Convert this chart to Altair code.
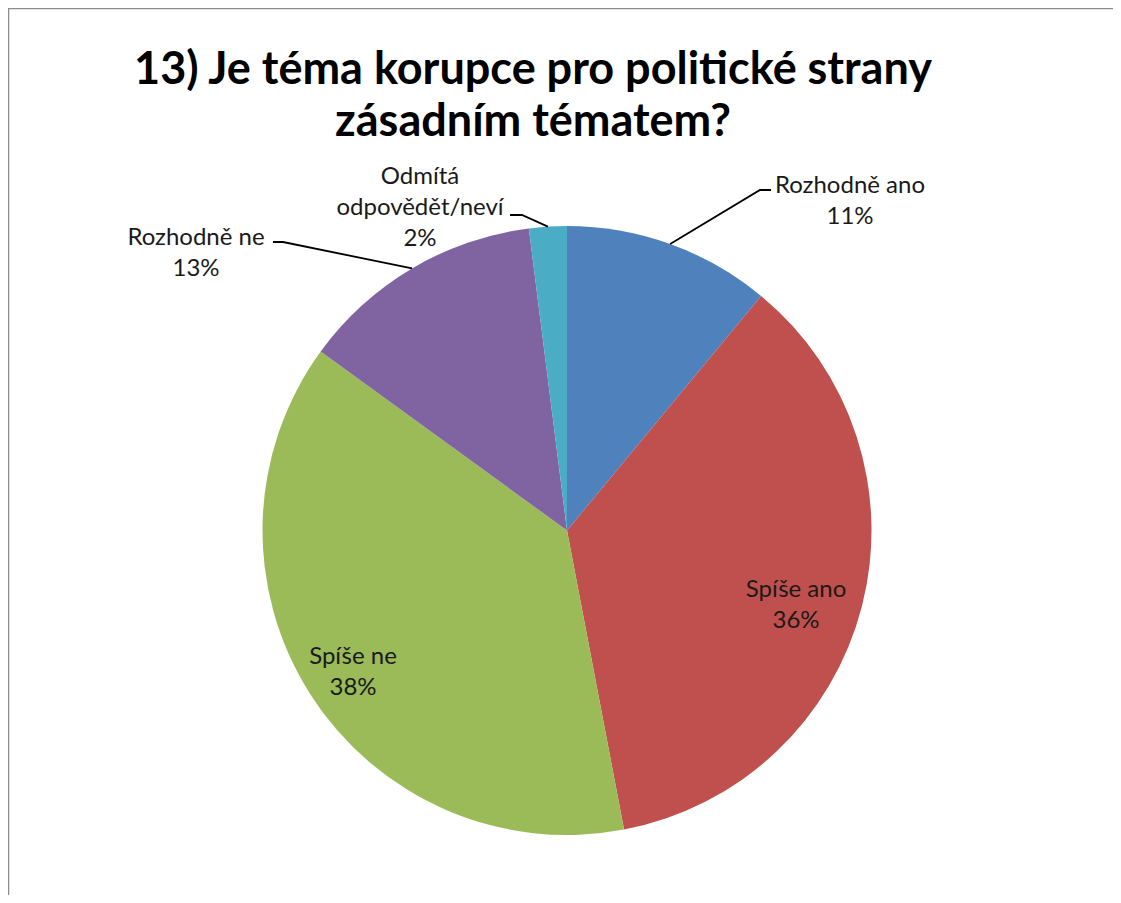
import altair as alt
import pandas as pd
import numpy as np

# ---- data ----
categories = ["Rozhodně ano", "Spíše ano", "Spíše ne", "Rozhodně ne", "Odmítá odpovědět/neví"]
label_lines = [["Rozhodně ano"], ["Spíše ano"], ["Spíše ne"], ["Rozhodně ne"], ["Odmítá", "odpovědět/neví"]]
values = [11, 36, 38, 13, 2]
colors = ["#4F81BD", "#C0504D", "#9BBB59", "#8064A2", "#4BACC6"]
title_lines = ["13) Je téma korupce pro politické strany", "zásadním tématem?"]

# ---- layout (page pixel coordinates, minus page margin) ----
M = 8
W, H = 1105, 887
CX, CY, R = 567 - M, 530.5 - M, 304.5
label_pos = {  # centre x, first-line middle y of each label
    "Rozhodně ano": (850, 186),
    "Spíše ano": (796, 590),
    "Spíše ne": (353, 657),
    "Rozhodně ne": (196, 238),
    "Odmítá odpovědět/neví": (420, 177),
}
leaders = {  # elbow, end of the leader line
    "Rozhodně ano": [(760, 190), (771, 190)],
    "Rozhodně ne": [(283, 242), (273, 242)],
    "Odmítá odpovědět/neví": [(522, 215), (510, 215)],
}
LABEL_FONT = "Lato"

total = sum(values)
pie = pd.DataFrame({"cat": categories, "value": values, "idx": range(len(values))})

cum = np.cumsum(values) / total
mid = (cum - np.array(values) / total / 2) * 2 * np.pi

lab_rows = []
for c, lines, v in zip(categories, label_lines, values):
    x, y = label_pos[c]
    lab_rows.append({"cat": c, "text": "\n".join(lines + [f"{v}%"]), "x": x - M, "y": y - M})
labels = pd.DataFrame(lab_rows)

lead_rows = []
for i, c in enumerate(categories):
    if c in leaders:
        ex = CX + R * np.sin(mid[i])
        ey = CY - R * np.cos(mid[i])
        pts = [(ex, ey)] + [(px - M, py - M) for px, py in leaders[c]]
        for k, (px, py) in enumerate(pts):
            lead_rows.append({"cat": c, "k": k, "x": px, "y": py})
leads = pd.DataFrame(lead_rows)

title_df = pd.DataFrame({"text": ["\n".join(title_lines)], "x": [533 - M], "y": [70 - M]})

xs = alt.Scale(domain=[0, W], nice=False, zero=False)
ys = alt.Scale(domain=[0, H], nice=False, zero=False, reverse=True)

arcs = alt.Chart(pie).mark_arc(outerRadius=R, strokeWidth=0).encode(
    theta=alt.Theta("value:Q", stack=True),
    color=alt.Color("cat:N", scale=alt.Scale(domain=categories, range=colors), legend=None),
    order=alt.Order("idx:Q"),
    x=alt.value(CX),
    y=alt.value(CY),
)

lines = alt.Chart(leads).mark_line(color="black", strokeWidth=1.8).encode(
    x=alt.X("x:Q", scale=xs, axis=None),
    y=alt.Y("y:Q", scale=ys, axis=None),
    detail="cat:N",
    order="k:Q",
)

texts = alt.Chart(labels).mark_text(
    font=LABEL_FONT, fontSize=24, color="#1a1a1a", lineBreak="\n", lineHeight=31,
    align="center", baseline="middle",
).encode(
    x=alt.X("x:Q", scale=xs, axis=None),
    y=alt.Y("y:Q", scale=ys, axis=None),
    text="text:N",
)

title = alt.Chart(title_df).mark_text(
    font="Lato", fontSize=45, fontWeight="bold", color="black", lineBreak="\n", lineHeight=52,
    align="center", baseline="middle",
).encode(
    x=alt.X("x:Q", scale=xs, axis=None),
    y=alt.Y("y:Q", scale=ys, axis=None),
    text="text:N",
)

border_top = alt.Chart(pd.DataFrame({"a": [0]})).mark_rule(color="#8c8c8c", strokeWidth=2.5).encode(
    x=alt.value(0), x2=alt.value(W), y=alt.value(0)
)
border_left = alt.Chart(pd.DataFrame({"a": [0]})).mark_rule(color="#8c8c8c", strokeWidth=2.5).encode(
    y=alt.value(0), y2=alt.value(H), x=alt.value(0)
)

chart = alt.layer(arcs, lines, texts, title, border_top, border_left).properties(
    width=W, height=H, padding=0, background="white",
    autosize=alt.AutoSizeParams(type="none"),
).configure_view(stroke=None)

chart.save("out.html", embed_options={"renderer": "svg", "actions": False})
